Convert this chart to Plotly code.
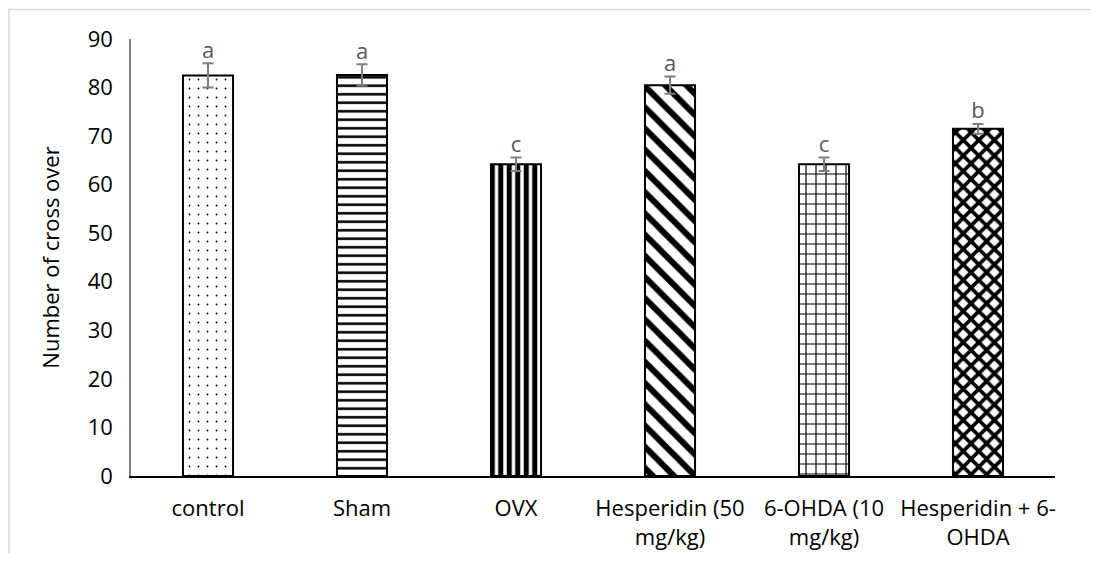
import plotly.graph_objects as go

categories = ["control", "Sham", "OVX", "Hesperidin (50<br>mg/kg)", "6-OHDA (10<br>mg/kg)", "Hesperidin + 6-<br>OHDA"]
values = [82.5, 82.6, 64.2, 80.5, 64.2, 71.5]
errors = [2.5, 2.2, 1.4, 1.8, 1.4, 1.0]
letters = ["a", "a", "c", "a", "c", "b"]
patterns = [".", "-", "|", "\\", "+", "x"]
pattern_sizes = [9, 8.5, 8.5, 15, 10, 11]
pattern_solidity = [0.03, 0.3, 0.6, 0.4, 0.22, 0.55]

FONT = "Open Sans"
FS = 22

W, H = 1083, 545
ML, MR, MT, MB = 123, 36, 31, 77
PW, PH = W - ML - MR, H - MT - MB

fig = go.Figure()
fig.add_trace(go.Bar(
    x=categories, y=values, width=0.325,
    marker=dict(
        color="white",
        line=dict(color="black", width=2),
        pattern=dict(shape=patterns, size=pattern_sizes, solidity=pattern_solidity,
                     fgcolor="black", bgcolor="white", fillmode="replace"),
    ),
    error_y=dict(type="data", array=errors, visible=True, color="#7f7f7f",
                 thickness=2, width=5.5),
    showlegend=False,
))
fig.add_trace(go.Scatter(
    x=categories, y=[v + e for v, e in zip(values, errors)],
    mode="text", text=letters, textposition="top center",
    textfont=dict(family=FONT, size=FS, color="#595959"),
    showlegend=False, cliponaxis=False,
))

fig.update_layout(
    width=W, height=H,
    margin=dict(l=ML, r=MR, t=MT, b=MB),
    paper_bgcolor="white", plot_bgcolor="white",
    font=dict(family=FONT, size=FS, color="black"),
    shapes=[dict(type="rect", xref="paper", yref="paper",
                 x0=-(ML - 1) / PW, x1=(PW + MR + 20) / PW,
                 y0=-(MB + 20) / PH, y1=1 + (MT - 1.5) / PH,
                 line=dict(color="#d9d9d9", width=1.5), fillcolor="rgba(0,0,0,0)", layer="below")],
)
fig.update_yaxes(
    range=[0, 90], dtick=10, showgrid=False, zeroline=False,
    showline=True, linecolor="#7f7f7f", linewidth=1.5,
    ticks="", ticklabelstandoff=12, automargin=False,
    title=dict(text="Number of cross over", font=dict(family=FONT, size=FS), standoff=22),
)
fig.update_xaxes(
    showgrid=False, showline=True, linecolor="black", linewidth=2,
    ticks="", ticklabelstandoff=12, automargin=False,
    tickfont=dict(family=FONT, size=FS),
)

fig.write_html("out.html")
